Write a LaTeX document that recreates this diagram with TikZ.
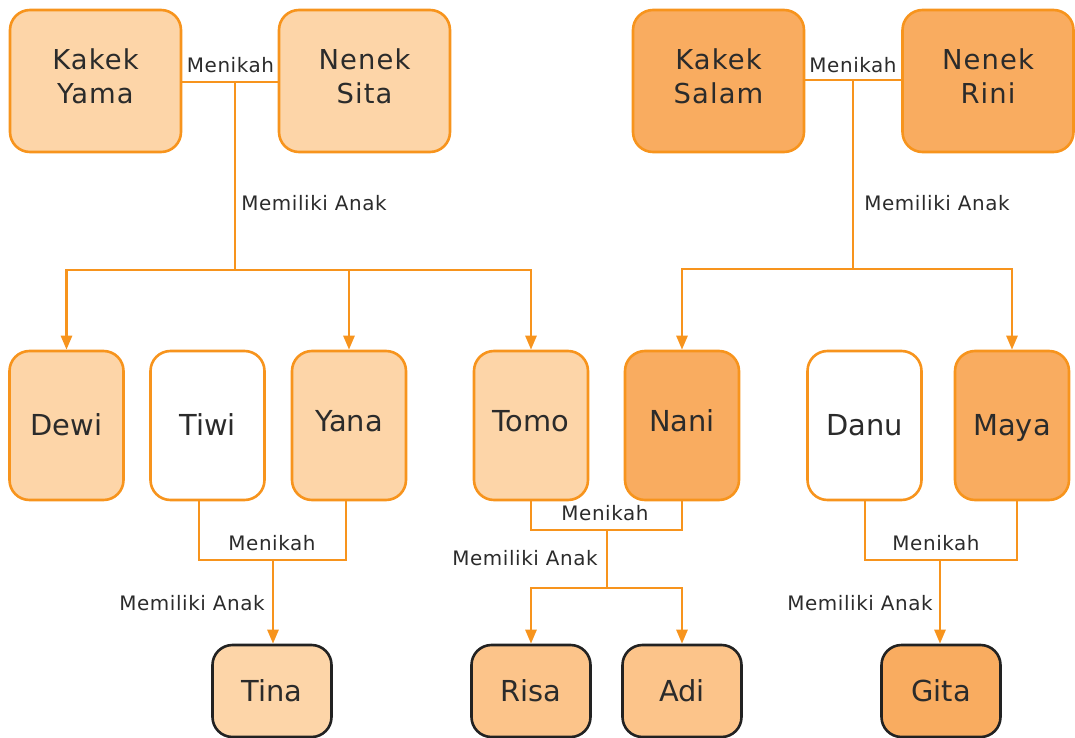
\documentclass[tikz,border=0pt]{standalone}
\usepackage{fontspec}
\setmainfont{DejaVu Sans}
\newfontfamily\boxfont[LetterSpace=4]{DejaVu Sans}
\newfontfamily\lblfont[LetterSpace=3]{DejaVu Sans}
\usetikzlibrary{arrows.meta}
\definecolor{lt}{HTML}{FDD5A8}
\definecolor{dk}{HTML}{F9AC60}
\definecolor{md}{HTML}{FCC48A}
\definecolor{ob}{HTML}{F7941D}
\definecolor{tx}{HTML}{2B2B2B}
\definecolor{bk}{HTML}{222222}
\newcommand{\twoline}[2]{\raisebox{0pt}[14bp][36bp]{\begin{tabular}[t]{@{}c@{}}#1\\#2\end{tabular}}}
\begin{document}
\begin{tikzpicture}[x=1bp,y=-1bp,
  person/.style={draw=ob, line width=2.6bp, rounded corners=20bp, text=tx, align=center, inner sep=0pt},
  topbox/.style={person, minimum width=171bp, minimum height=142bp, font=\boxfont\fontsize{27.5}{34}\selectfont},
  midbox/.style={person, minimum width=114bp, minimum height=149bp, font=\fontsize{29}{34}\selectfont,
    text height=21bp, text depth=2bp},
  raised/.style={text height=21bp, text depth=10bp},
  botbox/.style={person, draw=bk, minimum width=119bp, minimum height=92bp, font=\fontsize{29}{34}\selectfont,
    text height=21bp, text depth=1bp},
  lbl/.style={text=tx, inner sep=0pt, font=\lblfont\fontsize{20}{24}\selectfont},
  conn/.style={draw=ob, line width=2.6bp},
  arr/.style={conn, -{Triangle[width=11bp,length=14bp]}}]
\useasboundingbox (0,0) rectangle (1075,738);
% top row
\node[topbox, fill=lt] (yama) at (95.5,81) {\twoline{Kakek}{Yama}};
\node[topbox, fill=lt] (sita) at (364.5,81) {\twoline{Nenek}{Sita}};
\node[topbox, fill=dk] (salam) at (718.5,81) {\twoline{Kakek}{Salam}};
\node[topbox, fill=dk] (rini) at (988,81) {\twoline{Nenek}{Rini}};
% middle row
\node[midbox, fill=lt] (dewi) at (66.5,425.5) {Dewi};
\node[midbox, fill=white] (tiwi) at (207.5,425.5) {Tiwi};
\node[midbox, raised, fill=lt] (yana) at (349,425.5) {Yana};
\node[midbox, raised, fill=lt] (tomo) at (531,425.5) {Tomo};
\node[midbox, raised, fill=dk] (nani) at (682,425.5) {Nani};
\node[midbox, fill=white] (danu) at (864.5,425.5) {Danu};
\node[midbox, fill=dk] (maya) at (1012,425.5) {Maya};
% bottom row
\node[botbox, fill=lt] (tina) at (272,691) {Tina};
\node[botbox, fill=md] (risa) at (531,691) {Risa};
\node[botbox, fill=md] (adi) at (682,691) {Adi};
\node[botbox, fill=dk] (gita) at (941,691) {Gita};
% coordinates
\coordinate (m1) at (235,82);
\coordinate (b1) at (235,270);
\coordinate (m2) at (853,80);
\coordinate (b2) at (853,269);
\coordinate (t1) at (199,560);
\coordinate (t2) at (346,560);
\coordinate (j1) at (273,560);
\coordinate (n1) at (531,530);
\coordinate (n2) at (682,530);
\coordinate (j2) at (607,530);
\coordinate (k2) at (607,588);
\coordinate (d1) at (865,560);
\coordinate (d2) at (1017,560);
\coordinate (j3) at (940,560);
% top-left family
\draw[conn] (yama.east |- m1) -- (sita.west |- m1);
\draw[conn] (m1) -- (b1);
\draw[arr] (b1) -| (dewi.north);
\draw[arr] (b1) -| (yana.north);
\draw[arr] (b1) -| (tomo.north);
% top-right family
\draw[conn] (salam.east |- m2) -- (rini.west |- m2);
\draw[conn] (m2) -- (b2);
\draw[arr] (b2) -| (nani.north);
\draw[arr] (b2) -| (maya.north);
% Tiwi + Yana
\draw[conn] (tiwi.south -| t1) -- (t1) -- (t2) -- (yana.south -| t2);
\draw[arr] (j1) -- (tina.north -| j1);
% Tomo + Nani
\draw[conn] (tomo.south -| n1) -- (n1) -- (n2) -- (nani.south -| n2);
\draw[conn] (j2) -- (k2);
\draw[arr] (k2) -| (risa.north);
\draw[arr] (k2) -| (adi.north);
% Danu + Maya
\draw[conn] (danu.south -| d1) -- (d1) -- (d2) -- (maya.south -| d2);
\draw[arr] (j3) -- (gita.north -| j3);
% labels
\node[lbl] (l1) at (230.5,65) {Menikah};
\node[lbl] (l2) at (853,65) {Menikah};
\node[lbl] (l3) at (314,203) {Memiliki Anak};
\node[lbl] (l4) at (937,203) {Memiliki Anak};
\node[lbl] (l5) at (272,543) {Menikah};
\node[lbl] (l6) at (192,603) {Memiliki Anak};
\node[lbl] (l7) at (605,513) {Menikah};
\node[lbl] (l8) at (525,558) {Memiliki Anak};
\node[lbl] (l9) at (936,543) {Menikah};
\node[lbl] (l10) at (860,603) {Memiliki Anak};
\end{tikzpicture}
\end{document}
